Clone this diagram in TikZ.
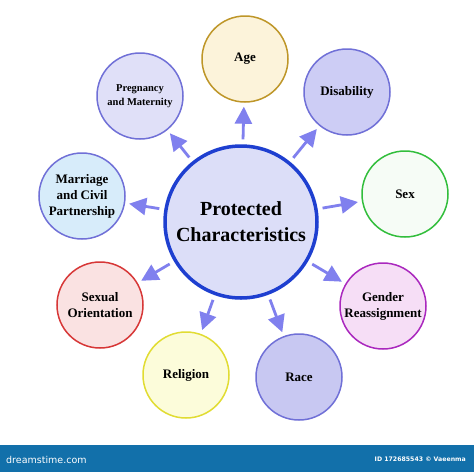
\documentclass[tikz,border=0pt]{standalone}
\usepackage{fontspec}
\setmainfont{Liberation Serif}
\setsansfont{DejaVu Sans}
\usetikzlibrary{arrows.meta}
\definecolor{arrc}{RGB}{128,128,238}
\definecolor{mainfill}{RGB}{220,222,248}
\definecolor{mainline}{RGB}{30,63,208}
\definecolor{bluel}{RGB}{112,112,215}
\definecolor{barc}{RGB}{18,112,170}
\tikzset{
  outer/.style={circle, minimum size=86pt, inner sep=0pt, line width=1.5pt, align=center,
    font=\fontsize{13}{16}\selectfont\bfseries},
  mainc/.style={circle, minimum size=152pt, inner sep=0pt, line width=3.5pt, draw=mainline, fill=mainfill,
    align=center, font=\fontsize{20}{26}\selectfont\bfseries},
  arr/.style={draw=arrc, line width=2.8pt, -{Triangle[length=17pt,width=17pt]}, shorten <=5pt, shorten >=4pt}
}
\begin{document}
\begin{tikzpicture}[x=1pt,y=-1pt]
\useasboundingbox (0,0) rectangle (474,472);
\fill[white] (0,0) rectangle (474,472);
\node[mainc] (main) at (241,222) {Protected\\Characteristics};
\node[outer, draw={rgb,255:red,190;green,150;blue,40}, fill={rgb,255:red,252;green,243;blue,218}] (age) at (245,59) {Age};
\node[outer, draw=bluel, fill={rgb,255:red,205;green,205;blue,245}] (dis) at (347,92) {Disability};
\node[outer, draw={rgb,255:red,50;green,190;blue,60}, fill={rgb,255:red,246;green,252;blue,246}] (sex) at (405,194) {Sex};
\node[outer, draw={rgb,255:red,170;green,40;blue,190}, fill={rgb,255:red,246;green,222;blue,246}] (gen) at (383,306) {Gender\\Reassignment};
\node[outer, draw=bluel, fill={rgb,255:red,200;green,200;blue,242}] (race) at (299,377) {Race};
\node[outer, draw={rgb,255:red,225;green,220;blue,50}, fill={rgb,255:red,252;green,252;blue,218}] (rel) at (186,375) {Religion};
\node[outer, draw={rgb,255:red,215;green,55;blue,55}, fill={rgb,255:red,250;green,226;blue,226}] (sexo) at (100,305) {Sexual\\Orientation};
\node[outer, draw=bluel, fill={rgb,255:red,215;green,236;blue,250}] (mar) at (82,196) {Marriage\\and Civil\\Partnership};
\node[outer, draw=bluel, fill={rgb,255:red,224;green,224;blue,248}, font=\fontsize{10.5}{14}\selectfont\bfseries] (preg) at (140,96) {Pregnancy\\and Maternity};
\foreach \t in {age,dis,sex,gen,race,rel,sexo,mar,preg}
  \draw[arr] (main) -- (\t);
\fill[barc] (0,445) rectangle (474,472);
\node[anchor=west, text=white, font=\sffamily\fontsize{9.5}{11}\selectfont, inner sep=0pt] (wm1) at (6,460) {dreamstime.com};
\node[anchor=east, text=white, font=\sffamily\bfseries\fontsize{6.2}{8}\selectfont, inner sep=0pt] (wm2) at (466,459) {ID 172685543 © Vaeenma};
\end{tikzpicture}
\end{document}
